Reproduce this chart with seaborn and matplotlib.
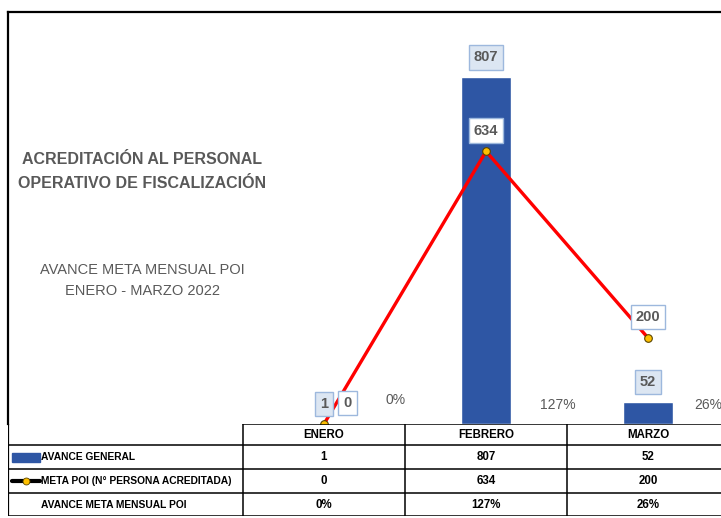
import numpy as np
import pandas as pd
import matplotlib
matplotlib.use('Agg')
import matplotlib.pyplot as plt
import seaborn as sns
from matplotlib.patches import Rectangle
from matplotlib.lines import Line2D

# data
meses = ['ENERO', 'FEBRERO', 'MARZO']
avance_general = [1, 807, 52]
meta_poi = [0, 634, 200]
avance_pct = ['0%', '127%', '26%']
row_labels = ['AVANCE GENERAL', 'META POI (N° PERSONA ACREDITADA)', 'AVANCE META MENSUAL POI']

sns.set_style('white')
plt.rcParams['font.family'] = ['Liberation Sans', 'DejaVu Sans']

BLUE = '#2E56A4'
GRAY = '#595959'

fig = plt.figure(figsize=(7.21, 5.18), dpi=100)
W, H = 721, 518
ax = fig.add_axes([8 / W, (H - 424) / H, (W - 8) / W, (424 - 12) / H])
axt = fig.add_axes([8 / W, (H - 516) / H, (W - 8) / W, (516 - 424) / H])

df = pd.DataFrame({'mes': meses, 'avance': avance_general, 'meta': meta_poi})
x = np.arange(len(meses))

sns.barplot(data=df, x='mes', y='avance', color=BLUE, width=0.31, saturation=1, ax=ax)
sns.lineplot(x=x, y=df['meta'], color='red', lw=2.4, marker='o', markersize=5.5,
             markerfacecolor='#FFC000', markeredgecolor='#5A4500', markeredgewidth=0.8,
             ax=ax, zorder=4)

# etiquetas de datos
bar_box = dict(boxstyle='square,pad=0.35', fc='#DCE6F2', ec='#9DB8DD', lw=1)
line_box = dict(boxstyle='square,pad=0.35', fc='white', ec='#9DB8DD', lw=1)
for i in x:
    ax.annotate(str(avance_general[i]), (i, avance_general[i]), xytext=(0, 14),
                textcoords='offset points', ha='center', va='center', fontsize=10.5,
                fontweight='bold', color=GRAY, bbox=bar_box, zorder=5)
    dx = 17 if i == 0 else 0
    ax.annotate(str(meta_poi[i]), (i, meta_poi[i]), xytext=(dx, 15),
                textcoords='offset points', ha='center', va='center', fontsize=10.5,
                fontweight='bold', color=GRAY, bbox=line_box, zorder=5)
    ax.annotate(avance_pct[i], (i + (0.44 if i < 2 else 0.37), 0),
                xytext=(0, 14 if i else 17),
                textcoords='offset points', ha='center', va='center', fontsize=10,
                color=GRAY)

ax.set_xlim(-1.95, 2.45)
ax.set_ylim(0, 958)
ax.set_xlabel('')
ax.set_ylabel('')
ax.set_xticks([])
ax.set_yticks([])
for s in ['right', 'bottom']:
    ax.spines[s].set_visible(False)
for s in ['top', 'left']:
    ax.spines[s].set_color('black')
    ax.spines[s].set_linewidth(1.6)

# titulos
ax.text(-1.12, 587, 'ACREDITACIÓN AL PERSONAL\nOPERATIVO DE FISCALIZACIÓN', ha='center',
        va='center', fontsize=11.5, fontweight='bold', color=GRAY, linespacing=1.75)
ax.text(-1.12, 334, 'AVANCE META MENSUAL POI\nENERO - MARZO 2022', ha='center',
        va='center', fontsize=10.5, color=GRAY, linespacing=1.65)

# tabla bajo el grafico
axt.set_xlim(-1.95, 2.45)
axt.set_ylim(92, 0)
axt.axis('off')
rows = [0, 21, 45, 69, 92]
lc = dict(color='black', lw=1.1)
axt.plot([-0.5, 2.45], [0, 0], **lc)
for r in rows[1:]:
    axt.plot([-1.95, 2.45], [r, r], **lc)
for b in [-0.5, 0.5, 1.5]:
    axt.plot([b, b], [0, 92], **lc)
axt.plot([-1.95, -1.95], [0, 92], color='black', lw=1.6)

mid = [(rows[k] + rows[k + 1]) / 2 for k in range(4)]
tfont = dict(fontsize=8.3, fontweight='bold', color='black', va='center')
for i in x:
    axt.text(i, mid[0], meses[i], ha='center', **tfont)
    axt.text(i, mid[1], str(avance_general[i]), ha='center', **tfont)
    axt.text(i, mid[2], str(meta_poi[i]), ha='center', **tfont)
    axt.text(i, mid[3], avance_pct[i], ha='center', **tfont)
for k, lab in enumerate(row_labels):
    axt.text(-1.745, mid[k + 1], lab, ha='left', fontsize=7.4, fontweight='bold',
             color='black', va='center')

axt.add_patch(Rectangle((-1.925, mid[1] - 4.5), 0.175, 9, color=BLUE))
axt.add_line(Line2D([-1.925, -1.75], [mid[2], mid[2]], color='black', lw=3))
axt.add_line(Line2D([-1.8375], [mid[2]], marker='o', markersize=5, color='#FFC000',
                    markeredgecolor='#5A4500', markeredgewidth=0.6))

fig.savefig('out.png', dpi=100)
